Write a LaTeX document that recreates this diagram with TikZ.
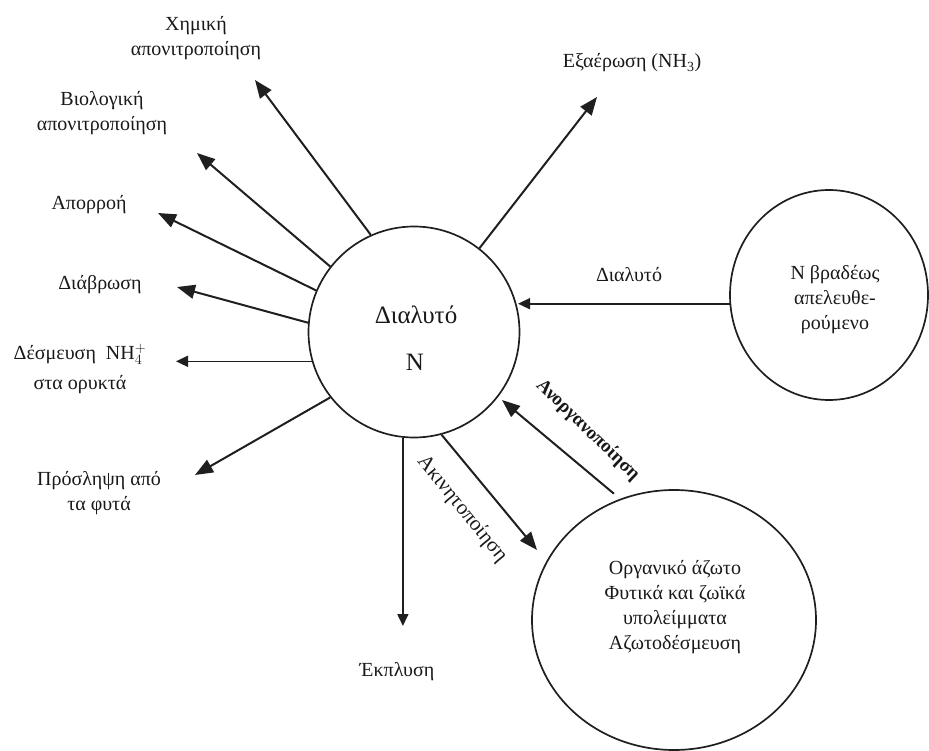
\documentclass[tikz,border=0pt]{standalone}
\usepackage{fontspec}
\setmainfont{Liberation Serif}
\usetikzlibrary{arrows.meta,shapes.geometric}
\begin{document}
\begin{tikzpicture}[x=1pt,y=-1pt,
  pool/.style={draw=black!88, line width=1.7pt, inner sep=0pt},
  lbl/.style={align=center, inner sep=0pt, text=black!90, font=\fontsize{20}{25}\selectfont},
  biglbl/.style={inner sep=0pt, text=black!90, font=\fontsize{25}{30}\selectfont},
  flow/.style={draw=black!88, line width=2pt, -{Triangle[length=18pt,width=14pt]}},
  thinflow/.style={draw=black!88, line width=1.6pt, -{Triangle[length=12pt,width=11pt]}},
]
\useasboundingbox (0,0) rectangle (929,751);
% pools
\node[pool, circle, minimum size=211pt] (c) at (414,332) {};
\node[pool, ellipse, minimum width=198pt, minimum height=210pt] (R) at (829,295) {};
\node[pool, ellipse, minimum width=284pt, minimum height=260pt] (B) at (674,620) {};
% pool texts
\node[biglbl] (ct1) at (416,315) {Διαλυτό};
\node[biglbl] (ct2) at (415,362) {N};
\node[lbl] (rtxt) at (835,300) {N βραδέως\\απελευθε-\\ρούμενο};
\node[lbl] (btxt) at (675,607) {Οργανικό άζωτο\\Φυτικά και ζωϊκά\\υπολείμματα\\Αζωτοδέσμευση};
% outer labels
\node[lbl] (chem) at (196,38) {Χημική\\απονιτροποίηση};
\node[lbl] (bio) at (102,113) {Βιολογική\\απονιτροποίηση};
\node[lbl] (runoff) at (89,205) {Απορροή};
\node[lbl] (eros) at (100,285) {Διάβρωση};
\node[lbl] (fixl) at (80,369) {Δέσμευση\ \ NH$_4^+$\\[5pt]στα ορυκτά};
\node[lbl] (upt) at (99,493) {Πρόσληψη από\\τα φυτά};
\node[lbl] (vol) at (632,63) {Εξαέρωση (NH\textsubscript{3})};
\node[lbl] (disl) at (629,275) {Διαλυτό};
\node[lbl] (leachl) at (397,672) {Έκπλυση};
\node[lbl, font=\fontsize{21}{25}\selectfont, rotate=-51] (immobl) at (462,509) {Ακινητοποίηση};
\node[lbl, font=\bfseries\fontsize{19}{24}\selectfont, rotate=-44] (minl) at (588,430) {Ανοργανοποίηση};
% arrow tips
\coordinate (tchem) at (255,80);
\coordinate (tbio) at (197,153);
\coordinate (trun) at (158,213);
\coordinate (tero) at (177,287);
\coordinate (tfix) at (176,362);
\coordinate (tupt) at (195,475);
\coordinate (tleach) at (403,626);
\coordinate (tvol) at (597,97);
\coordinate (tdis) at (518,305);
\coordinate (tmin) at (502,400);
\coordinate (timm) at (537,550);
% connectors
\draw[flow] (c.114) -- (tchem);
\draw[flow] (c.142) -- (tbio);
\draw[flow] (c.157) -- (trun);
\draw[flow] (c.175) -- (tero);
\draw[thinflow] (c.196) -- (c.196 -| tfix);
\draw[flow] (c.218) -- (tupt);
\draw[thinflow] (c.264) -- (c.264 |- tleach);
\draw[flow] (c.52) -- (tvol);
\draw[thinflow] (R.185) -- (R.185 -| tdis);
\draw[flow] (c.285) -- (timm);
\draw[flow, shorten <=8pt] (B.114) -- (tmin);
\end{tikzpicture}
\end{document}
